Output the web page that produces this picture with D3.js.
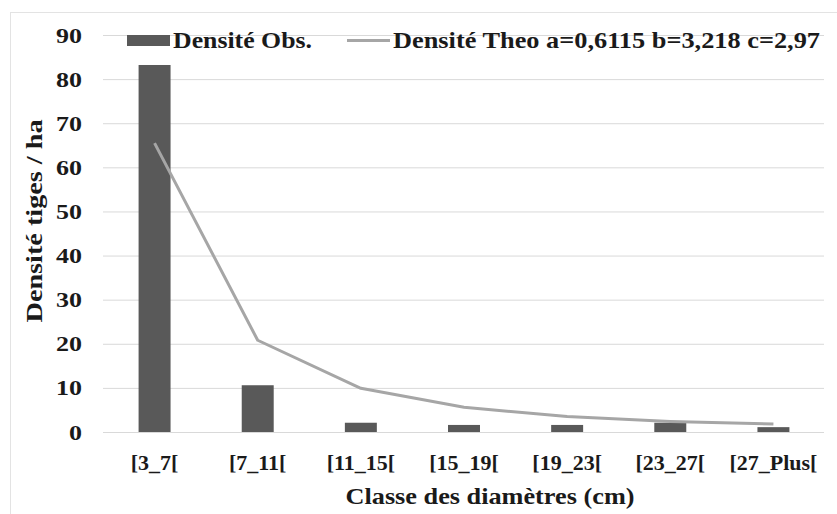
<!DOCTYPE html>
<html>
<head>
<meta charset="utf-8">
<script src="https://cdn.jsdelivr.net/npm/d3@7"></script>
<style>
  body { margin: 0; background: #fff; }
  text { font-family: "Liberation Serif", "Times New Roman", serif; font-weight: bold; fill: #1a1a1a; }
</style>
</head>
<body>
<div id="chart"></div>
<script>
// chart values
const classes = ["[3_7[", "[7_11[", "[11_15[", "[15_19[", "[19_23[", "[23_27[", "[27_Plus["];
const densiteObs = [83.2, 10.6, 2.1, 1.6, 1.6, 2.1, 1.1];
const densiteTheo = [65.5, 20.8, 9.9, 5.6, 3.5, 2.4, 1.8];
const yTicks = [0, 10, 20, 30, 40, 50, 60, 70, 80, 90];
const legendObs = "Densité Obs.";
const legendTheo = "Densité Theo a=0,6115 b=3,218 c=2,97";

const W = 837, H = 514;
const margin = {top: 35, right: 13, bottom: 82, left: 103};
const width = W - margin.left - margin.right;
const height = H - margin.top - margin.bottom;

const svg = d3.select("#chart").append("svg")
    .attr("width", W)
    .attr("height", H);

// chart area border
svg.append("rect")
    .attr("x", 10.5).attr("y", 12.5)
    .attr("width", 900).attr("height", 600)
    .attr("fill", "none")
    .attr("stroke", "#e3e3e3");

const g = svg.append("g")
    .attr("transform", `translate(${margin.left},${margin.top})`);

const x = d3.scaleBand()
    .domain(classes)
    .range([0, width + 1])
    .paddingInner(0.69)
    .paddingOuter(0.345);

const y = d3.scaleLinear()
    .domain([0, 90])
    .range([height, 0]);

// gridlines + y labels
const yAxis = d3.axisLeft(y)
    .tickValues(yTicks)
    .tickSize(-width)
    .tickPadding(21);
g.append("g").attr("class", "y-axis")
    .call(yAxis)
    .call(a => a.select(".domain").remove())
    .call(a => a.selectAll("line").attr("stroke", "#d9d9d9"))
    .call(a => a.selectAll("text")
        .attr("font-size", 22)
        .attr("lengthAdjust", "spacingAndGlyphs")
        .attr("textLength", d => d >= 10 ? 26 : 13)
        .attr("font-family", "Liberation Serif")
        .attr("fill", "#1a1a1a"));

// x labels
const xAxis = d3.axisBottom(x).tickSize(0).tickPadding(22);
g.append("g").attr("class", "x-axis")
    .attr("transform", `translate(0,${height})`)
    .call(xAxis)
    .call(a => a.select(".domain").remove())
    .call(a => a.selectAll("text")
        .attr("font-size", 22)
        .attr("font-family", "Liberation Serif")
        .attr("fill", "#1a1a1a"));

// bars
g.selectAll("rect.bar")
    .data(classes.map((c, i) => ({c, v: densiteObs[i]})))
    .enter().append("rect")
    .attr("class", "bar")
    .attr("x", d => x(d.c))
    .attr("y", d => y(d.v))
    .attr("width", x.bandwidth())
    .attr("height", d => y(0) - y(d.v))
    .attr("fill", "#595959");

// theoretical line
const line = d3.line()
    .x((d, i) => x(classes[i]) + x.bandwidth() / 2)
    .y(d => y(d));
g.append("path")
    .datum(densiteTheo)
    .attr("d", line)
    .attr("fill", "none")
    .attr("stroke", "#a6a6a6")
    .attr("stroke-width", 3)
    .attr("stroke-linejoin", "round");

// axis titles
svg.append("text")
    .attr("text-anchor", "middle")
    .attr("x", 490).attr("y", 504)
    .attr("font-size", 24)
    .attr("lengthAdjust", "spacingAndGlyphs")
    .attr("textLength", 289)
    .text("Classe des diamètres (cm)");

svg.append("text")
    .attr("text-anchor", "middle")
    .attr("transform", "translate(42,221) rotate(-90)")
    .attr("font-size", 24)
    .attr("lengthAdjust", "spacingAndGlyphs")
    .attr("textLength", 203)
    .text("Densité tiges / ha");

// legend
const leg = svg.append("g");
leg.append("rect")
    .attr("x", 127).attr("y", 35)
    .attr("width", 43).attr("height", 11)
    .attr("fill", "#595959");
leg.append("text")
    .attr("x", 173).attr("y", 48)
    .attr("font-size", 24)
    .attr("lengthAdjust", "spacingAndGlyphs")
    .attr("textLength", 139)
    .text(legendObs);
leg.append("line")
    .attr("x1", 347).attr("x2", 390)
    .attr("y1", 40.5).attr("y2", 40.5)
    .attr("stroke", "#a6a6a6")
    .attr("stroke-width", 3);
leg.append("text")
    .attr("x", 393).attr("y", 48)
    .attr("font-size", 24)
    .attr("lengthAdjust", "spacingAndGlyphs")
    .attr("textLength", 427)
    .text(legendTheo);
</script>
</body>
</html>
